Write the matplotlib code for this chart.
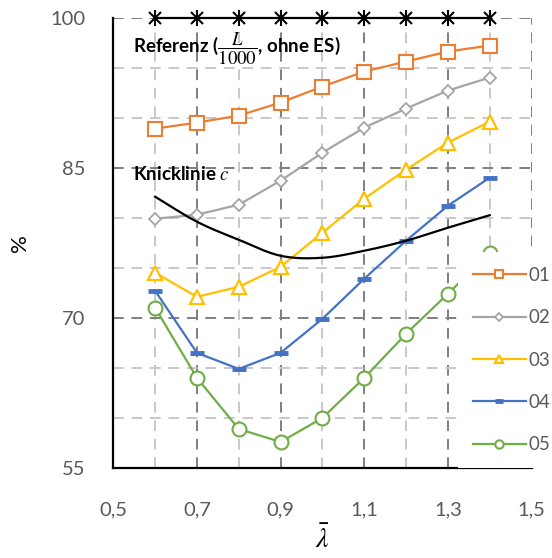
import numpy as np
import matplotlib
matplotlib.use("Agg")
import matplotlib.pyplot as plt
from matplotlib.ticker import FixedLocator, FuncFormatter

plt.rcParams['font.family'] = ['Lato', 'DejaVu Sans']
plt.rcParams['mathtext.fontset'] = 'stix'

lam = [0.6, 0.7, 0.8, 0.9, 1.0, 1.1, 1.2, 1.3, 1.4]
s01 = [88.9, 89.5, 90.2, 91.5, 93.1, 94.6, 95.6, 96.6, 97.2]
s02 = [79.9, 80.3, 81.3, 83.7, 86.5, 89.0, 90.9, 92.7, 94.0]
s03 = [74.5, 72.1, 73.1, 75.1, 78.5, 81.9, 84.8, 87.5, 89.6]
s04 = [72.7, 66.5, 64.9, 66.5, 69.9, 73.9, 77.7, 81.2, 84.0]
s05 = [71.0, 64.0, 58.9, 57.6, 60.0, 64.0, 68.4, 72.4, 76.5]
referenz = [100, 100, 100, 100, 100, 100, 100, 100, 100]
knick = [82.1, 79.6, 77.8, 76.2, 76.0, 76.7, 77.7, 79.0, 80.25]
labels = ['01', '02', '03', '04', '05']
colors = ['#ED7D31', '#A5A5A5', '#FFC000', '#4472C4', '#70AD47']


def catmull_rom(x, y, n=30):
    x = np.asarray(x, float); y = np.asarray(y, float)
    P = np.column_stack([x, y])
    P = np.vstack([P[0], P, P[-1]])
    out = []
    for i in range(1, len(P) - 2):
        p0, p1, p2, p3 = P[i - 1], P[i], P[i + 1], P[i + 2]
        t = np.linspace(0, 1, n)[:, None]
        c = 0.5 * ((2 * p1) + (-p0 + p2) * t + (2 * p0 - 5 * p1 + 4 * p2 - p3) * t ** 2
                   + (-p0 + 3 * p1 - 3 * p2 + p3) * t ** 3)
        out.append(c if i == 1 else c[1:])
    out = np.vstack(out)
    return out[:, 0], out[:, 1]


W, H = 552, 558
fig = plt.figure(figsize=(W / 100, H / 100), dpi=100)
ax = fig.add_axes([113.3 / W, 1 - 468 / H, (531.5 - 113.3) / W, (468 - 17.5) / H])
ax.set_xlim(0.5, 1.5)
ax.set_ylim(55, 100)

# grid
dark = '#7F7F7F'
light = '#C8C8C8'
dash = (0, (5.5, 4))
for xv in [0.7, 0.9, 1.1, 1.3, 1.5]:
    ax.axvline(xv, color=dark, lw=1.4, ls=dash, zorder=1)
for xv in [0.6, 0.8, 1.0, 1.2, 1.4]:
    ax.axvline(xv, color=light, lw=1.4, ls=dash, zorder=1)
for yv in [70, 85, 100]:
    ax.axhline(yv, color=dark, lw=1.4, ls=dash, zorder=1)
for yv in [60, 65, 75, 80, 90, 95]:
    ax.axhline(yv, color=light, lw=1.4, ls=dash, zorder=1)

ax.xaxis.set_major_locator(FixedLocator([0.5, 0.7, 0.9, 1.1, 1.3, 1.5]))
ax.yaxis.set_major_locator(FixedLocator([55, 70, 85, 100]))
ax.xaxis.set_major_formatter(FuncFormatter(lambda v, p: f"{v:.1f}".replace('.', ',')))
ax.yaxis.set_major_formatter(FuncFormatter(lambda v, p: f"{v:.0f}"))
ax.tick_params(axis='both', length=0, labelsize=14.5, colors='#595959')
ax.tick_params(axis='x', pad=24)
ax.tick_params(axis='y', pad=20)

for sp in ['top', 'right']:
    ax.spines[sp].set_visible(False)
for sp in ['left', 'bottom']:
    ax.spines[sp].set_linewidth(1.6)
    ax.spines[sp].set_color('black')

mstyles = [
    dict(marker='s', ms=9.5, mfc='white', mew=1.5),
    dict(marker='D', ms=6.5, mfc='white', mew=1.3),
    dict(marker='^', ms=10.5, mfc='white', mew=1.6),
    dict(marker='_', ms=10, mew=3.5),
    dict(marker='o', ms=10, mfc='white', mew=1.5),
]
handles = []
for s, c, lab, st in zip([s01, s02, s03, s04, s05], colors, labels, mstyles):
    h, = ax.plot(lam, s, color=c, lw=1.6, mec=c, label=lab, zorder=3, **st)
    handles.append(h)

kx, ky = catmull_rom(lam, knick)
ax.plot(kx, ky, color='black', lw=1.6, zorder=3)

ax.plot(lam, referenz, color='black', lw=1.6, marker='x', ms=9, mew=1.5, zorder=4, clip_on=False)
ax.plot(lam, referenz, color='none', marker='|', ms=11, mew=1.5, mec='black', zorder=4, clip_on=False)

ax.text(0.548, 96.9, r'Referenz ($\dfrac{L}{1000}$, ohne ES)', fontsize=13.5, fontweight='bold',
        va='center', ha='left', zorder=5)
ax.text(0.548, 84.4, r'Knicklinie $c$', fontsize=13.5, fontweight='bold',
        va='center', ha='left', zorder=5)

ax.set_ylabel('%', fontsize=16, color='black')
ax.yaxis.set_label_coords(-0.2, 0.5)
ax.set_xlabel(r'$\bar{\lambda}$', fontsize=20, color='black')
ax.xaxis.set_label_coords(0.5, -0.125)

leg = fig.legend(handles=handles, loc='upper left',
                 bbox_to_anchor=(458 / W, 1 - 252 / H), bbox_transform=fig.transFigure,
                 fontsize=13.5, frameon=True, fancybox=False, framealpha=1,
                 edgecolor='none', facecolor='white', borderpad=0.8, borderaxespad=0,
                 handlelength=2.8, handletextpad=0.15, labelspacing=1.35, markerscale=0.6)
for t in leg.get_texts():
    t.set_color('#595959')
leg.set_zorder(10)

fig.savefig('out.png', dpi=100)
